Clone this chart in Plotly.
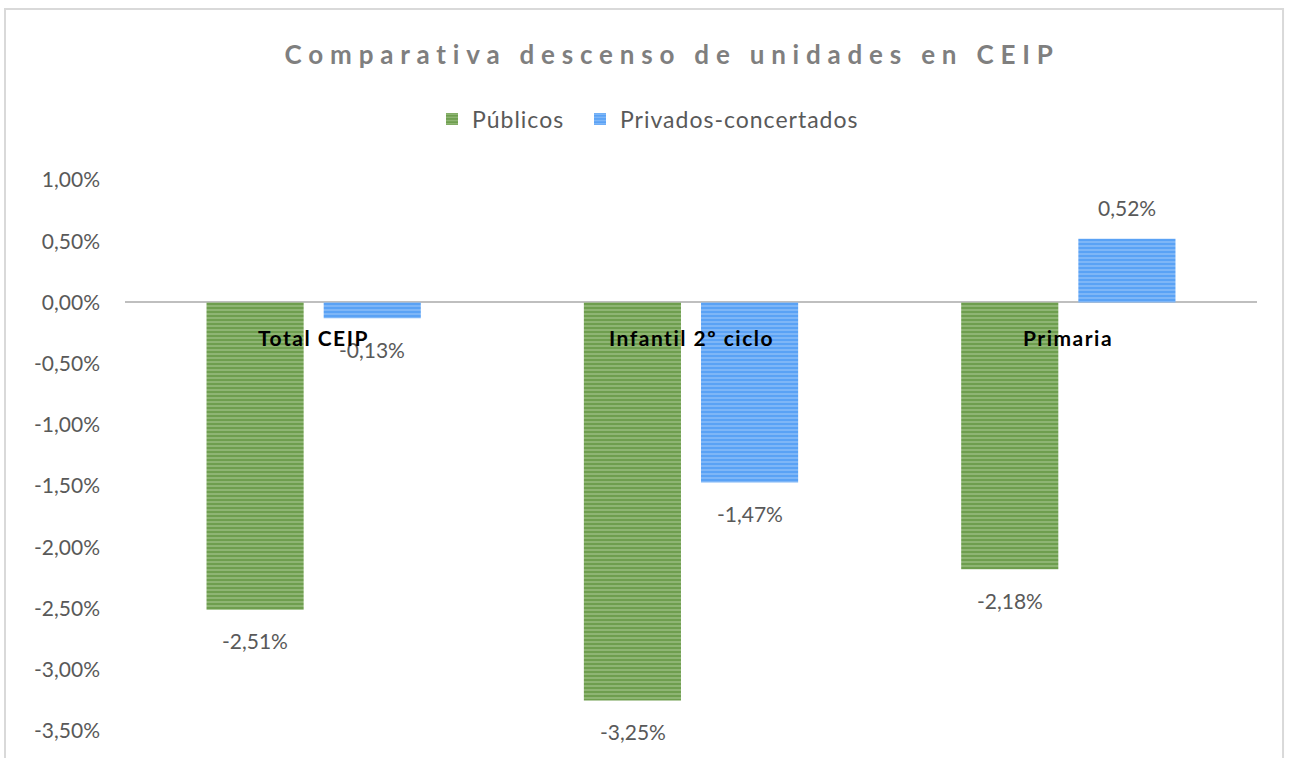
import plotly.graph_objects as go

categories = ["Total CEIP", "Infantil 2º ciclo", "Primaria"]
publicos = [-0.0251, -0.0325, -0.0218]
privados = [-0.0013, -0.0147, 0.0052]
tick_vals = [0.01, 0.005, 0.0, -0.005, -0.01, -0.015, -0.02, -0.025, -0.03, -0.035]

FONT = "Lato, 'Open Sans', sans-serif"
GRAY = "#595959"


def pct(v):
    return ("%.2f%%" % (v * 100)).replace(".", ",")


fig = go.Figure()
fig.add_trace(go.Bar(
    x=categories, y=publicos, name='<span style="letter-spacing:1px">Públicos</span>',
    marker=dict(color="#6E9E4E", line=dict(width=0),
                pattern=dict(shape="-", bgcolor="#6E9E4E", fgcolor="#C8E0B8", size=4, solidity=0.35)),
    textposition="none", legend="legend",
))
fig.add_trace(go.Bar(
    x=categories, y=privados, name='<span style="letter-spacing:1px">Privados-concertados</span>',
    marker=dict(color="#5AA2F5", line=dict(width=0),
                pattern=dict(shape="-", bgcolor="#5AA2F5", fgcolor="#C0DCFB", size=4, solidity=0.35)),
    textposition="none", legend="legend2",
))

for series, shift in ((publicos, -58.5), (privados, 58.5)):
    for c, v in zip(categories, series):
        fig.add_annotation(x=c, y=v, xref="x", yref="y", text=pct(v), showarrow=False,
                           xshift=shift, yshift=(31 if v >= 0 else -31),
                           font=dict(family=FONT, size=21, color=GRAY))

for c in categories:
    fig.add_annotation(x=c, y=0, xref="x", yref="y",
                       text='<b><span style="letter-spacing:1.5px">%s</span></b>' % c,
                       showarrow=False, yshift=-35,
                       font=dict(family=FONT, size=21, color="#000000"))

fig.add_shape(type="rect", xref="paper", yref="paper",
              x0=-0.106, x1=1.0230, y0=-0.2, y1=1.3103,
              line=dict(color="#D9D9D9", width=2), fillcolor="rgba(0,0,0,0)", layer="below")

legend_common = dict(orientation="h", xanchor="left", xref="container",
                     y=0.843, yref="container", yanchor="middle",
                     font=dict(family=FONT, size=23, color=GRAY))

fig.update_layout(
    width=1290, height=758,
    margin=dict(l=125, r=33, t=180, b=27),
    paper_bgcolor="white", plot_bgcolor="white",
    separators=",.",
    barmode="group", bargap=0.379, bargroupgap=0.171,
    title=dict(text='<span style="letter-spacing:6.8px">Comparativa descenso de unidades en CEIP</span>',
               x=0.521, xanchor="center", xref="container", y=0.9274, yanchor="middle",
               font=dict(family=FONT, size=26, color="#7F7F7F", weight="bold")),
    legend=dict(x=432 / 1290, **legend_common),
    legend2=dict(x=580 / 1290, **legend_common),
    showlegend=True,
    xaxis=dict(showticklabels=False, showgrid=False, zeroline=False, showline=False, ticks=""),
    yaxis=dict(range=[-0.035, 0.01], tickvals=tick_vals, ticktext=[pct(t) for t in tick_vals],
               showgrid=False, zeroline=True, zerolinecolor="#BFBFBF", zerolinewidth=2,
               showline=False, ticks="", ticklabelstandoff=24,
               tickfont=dict(family=FONT, size=21, color=GRAY)),
)

fig.write_html("out.html", config={"displayModeBar": False},
               post_script="document.body.style.margin='0';")
